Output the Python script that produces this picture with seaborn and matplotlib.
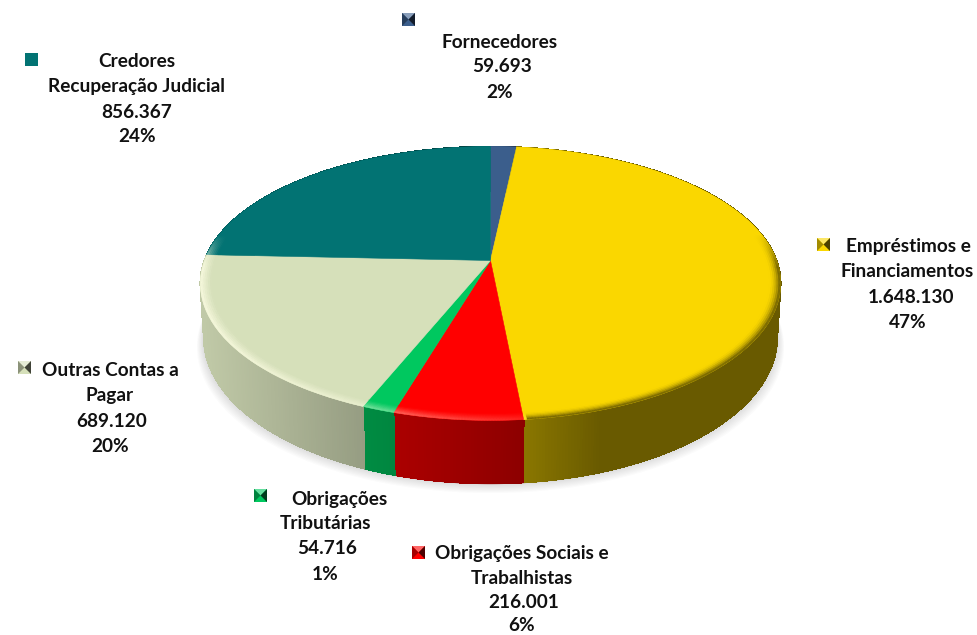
import numpy as np
import matplotlib
matplotlib.use("Agg")
import matplotlib.pyplot as plt
from matplotlib.collections import LineCollection, PolyCollection
from matplotlib.colors import to_rgb
from matplotlib.transforms import Transform
import seaborn as sns

# ---- data -----------------------------------------------------------------
categories = ["Fornecedores", "Empréstimos e Financiamentos",
              "Obrigações Sociais e Trabalhistas", "Obrigações Tributárias",
              "Outras Contas a Pagar", "Credores Recuperação Judicial"]
values = [59693, 1648130, 216001, 54716, 689120, 856367]
value_labels = ["59.693", "1.648.130", "216.001", "54.716", "689.120", "856.367"]
percent_labels = ["2%", "47%", "6%", "1%", "20%", "24%"]
name_lines = [["Fornecedores"], ["Empréstimos e", "Financiamentos"],
              ["Obrigações Sociais e", "Trabalhistas"], ["Obrigações", "Tributárias"],
              ["Outras Contas a", "Pagar"], ["Credores", "Recuperação Judicial"]]
hex_colors = ["#3B5E8C", "#FAD700", "#FF0000", "#00C85F", "#D6E0BA", "#027373"]

# ---- label layout: per label, centre x of each line, y of each line, marker box
label_x = [[500, 502, 500], [908, 907, 911, 908], [522, 522, 524, 522],
           [339, 325, 327, 325], [110, 110, 112, 110], [137, 137, 137, 137]]
label_y = [[42.5, 66.5, 92], [246.5, 271.5, 297.5, 323], [554, 578, 602.5, 625.5],
           [499.5, 523.5, 548.5, 574], [370.5, 395.5, 421.5, 446], [61.5, 86.5, 112.5, 137]]
marker_box = [(402, 13), (817, 238), (412, 546), (254, 489), (18, 361), (25, 53)]
marker_flat = [False, False, False, False, False, True]

W, H, DPI = 978, 635, 100
CX, CY, RX, RY, K = 490.5, 260.5, 286.0, 133.0, 0.168
DEPTH = 52.5

sns.set_theme(style="white")
plt.rcParams["font.family"] = ["Lato", "DejaVu Sans"]
palette = sns.color_palette(hex_colors)


class Perspective(Transform):
    """Maps the unit pie disc onto the tilted disc, in pixel-like data units."""
    input_dims = output_dims = 2
    is_affine = False
    has_inverse = False

    def transform_non_affine(self, values):
        v = np.asarray(values, float)
        w = 1 + K * v[:, 1]
        return np.column_stack([CX + RX * v[:, 0] / w, CY - RY * v[:, 1] / w])


persp = Perspective()


def project(u, v):
    return persp.transform_non_affine(np.column_stack([u, v]))


fig = plt.figure(figsize=(W / DPI, H / DPI), dpi=DPI, facecolor="white")
ax = fig.add_axes([0, 0, 1, 1])

wedges, _ = ax.pie(values, colors=palette, startangle=90, counterclock=False, radius=1)
ax.set_aspect("auto")
ax.set_xlim(0, W)
ax.set_ylim(H, 0)
ax.axis("off")
for wd in wedges:
    wd.set_transform(persp + ax.transData)
    wd.set_zorder(3)
    wd.set_edgecolor(wd.get_facecolor())
    wd.set_linewidth(0.4)

frac = np.array(values, float) / sum(values)
edges = np.concatenate([[0], np.cumsum(frac)]) * 2 * np.pi


def wall_points(th):
    u, v = np.sin(th), np.cos(th)
    top = project(u, v)
    bottom = top.copy()
    bottom[:, 0] = CX + (top[:, 0] - CX) * 0.988
    bottom[:, 1] = top[:, 1] + DEPTH / (1 + K * v)
    return top, bottom


# soft drop shadow below the wall
all_th = np.linspace(0, 2 * np.pi, 361)
_, sil = wall_points(all_th)
for grow in np.linspace(12, 1, 9):
    s = sil.copy()
    s[:, 0] = CX + (s[:, 0] - CX) * (1 + grow / 500)
    s[:, 1] = s[:, 1] + grow * 0.8
    ax.fill(s[:, 0], s[:, 1], color="#707070", alpha=0.028, lw=0, zorder=1)

shade_x = [200, 362, 525, 600, 780]
shade_y = [0.90, 0.70, 0.55, 0.42, 0.42]

quads, qcolors = [], []
rim_lines, rim_colors = [], []
bevel, bcolors = [], []
ring_r = np.linspace(0.962, 1.0, 7)
for i, col in enumerate(palette):
    base = np.array(to_rgb(col))
    n = max(3, int(np.degrees(edges[i + 1] - edges[i])) * 2)
    th = np.linspace(edges[i], edges[i + 1], n + 1)
    top, bot = wall_points(th)
    for j in range(n):
        quads.append([top[j], top[j + 1], bot[j + 1], bot[j]])
        xm = 0.5 * (top[j, 0] + top[j + 1, 0])
        shade = base * np.interp(xm, shade_x, shade_y)
        qcolors.append(shade)
        if np.cos(th[j]) < 0.3:
            rim_lines.append([bot[j], bot[j + 1]])
            rim_colors.append(shade)
    # rim bevel on the top surface: fades in towards the outer edge
    for r0, r1 in zip(ring_r[:-1], ring_r[1:]):
        t = (0.5 * (r0 + r1) - ring_r[0]) / (ring_r[-1] - ring_r[0])
        a = project(r0 * np.sin(th), r0 * np.cos(th))
        b = project(r1 * np.sin(th), r1 * np.cos(th))
        for j in range(n):
            xm = 0.5 * (a[j, 0] + a[j + 1, 0])
            vm = np.cos(0.5 * (th[j] + th[j + 1]))
            fade = np.clip((0.2 - vm) / 0.25, 0, 1)
            if xm < 525:
                amt = np.interp(xm, [200, 400, 525], [0.85, 0.4, 0.15]) * fade * t ** 1.2
                c = base * (1 - amt) + np.array([1.0, 1.0, 0.9]) * amt
            else:
                amt = 0.6 * t ** 2 * fade
                c = base * (1 - amt)
            bevel.append([a[j], a[j + 1], b[j + 1], b[j]])
            bcolors.append(c)

ax.add_collection(LineCollection(rim_lines, colors=rim_colors, linewidths=1.0, zorder=2))
ax.add_collection(PolyCollection(quads, facecolors=qcolors, edgecolors=qcolors,
                                 linewidths=0.6, antialiaseds=False, zorder=2))
ax.add_collection(PolyCollection(bevel, facecolors=bcolors, edgecolors=bcolors,
                                 linewidths=0.3, zorder=4))


def draw_marker(x, y, col, flat, s=13):
    c = np.array(to_rgb(col))
    ax.fill([x, x + s, x + s, x], [y, y, y + s, y + s], color=c, lw=0, zorder=5)
    if flat:
        return
    m = (x + s / 2, y + s / 2)
    ax.fill([x, m[0], x + s], [y, m[1], y], color=c * 0.6 + 0.4, lw=0, zorder=6)
    ax.fill([x, m[0], x], [y, m[1], y + s], color=c * 0.65, lw=0, zorder=6)
    ax.fill([x + s, m[0], x + s], [y, m[1], y + s], color=c * 0.3, lw=0, zorder=6)


for i, col in enumerate(palette):
    lines = name_lines[i] + [value_labels[i], percent_labels[i]]
    for line, lx, ly in zip(lines, label_x[i], label_y[i]):
        ax.text(lx, ly, line, ha="center", va="center", fontsize=13.7,
                fontweight="bold", color="#111111", zorder=7)
    draw_marker(*marker_box[i], col, marker_flat[i])

fig.savefig("out.png", dpi=DPI, facecolor="white")
